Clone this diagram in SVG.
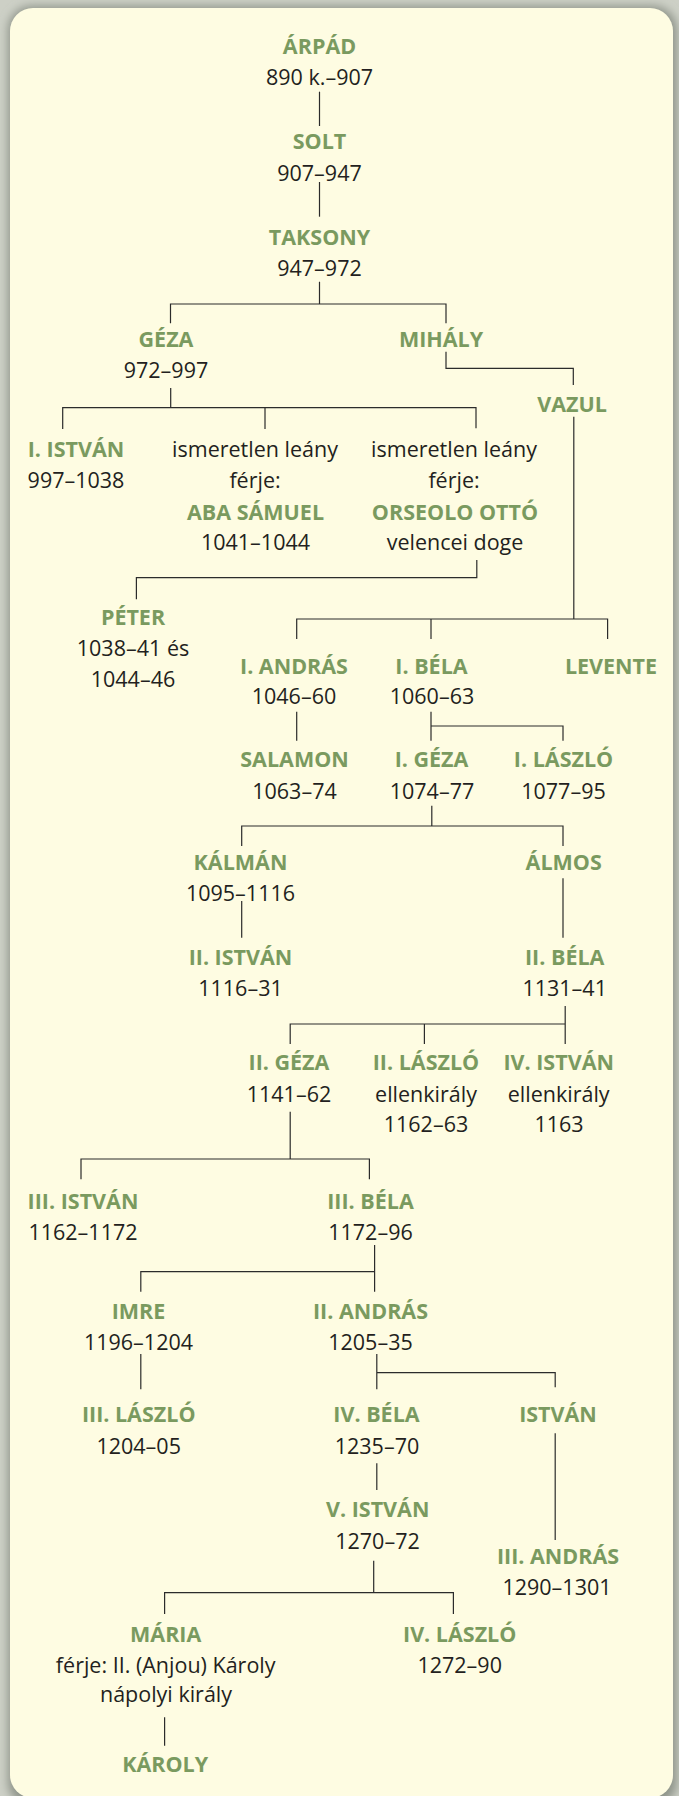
<svg xmlns="http://www.w3.org/2000/svg" width="679" height="1796" viewBox="0 0 679 1796">
<defs>
<filter id="sh" x="-5%" y="-5%" width="110%" height="110%"><feGaussianBlur stdDeviation="5"/></filter>
<style>
.n{font-family:"Open Sans","Liberation Sans",sans-serif;font-size:21.5px;font-weight:700;fill:#7a9a5f;text-anchor:middle}
.t{font-family:"Open Sans","Liberation Sans",sans-serif;font-size:21.5px;font-weight:400;fill:#231f20;text-anchor:middle}
.c{fill:none;stroke:#2b2b2b;stroke-width:1.2}
</style>
</defs>
<rect x="0" y="0" width="679" height="1796" fill="#cdd0c6"/>
<rect x="8" y="6" width="669" height="1800" rx="24" fill="#8f948a" filter="url(#sh)"/>
<rect x="10" y="8" width="663" height="1790" rx="23" fill="#fefce2"/>
<g id="connectors" class="c">
<path d="M319.5 91.7V126"/>
<path d="M319.5 182V216.7"/>
<path d="M319.5 281.7V304M170.5 323.3V304H446V323.3"/>
<path d="M446 351.7V368.3H573.3V385"/>
<path d="M170.7 388V407.7M62.7 429V407.7H476V428.3M265 407.7V429"/>
<path d="M476.8 560V577.7H136.4V599.3"/>
<path d="M573.8 416.7V619M296.7 639V619H607.6V639M431 619V639"/>
<path d="M296.7 711.7V740.7"/>
<path d="M431 711.7V740.7M431 726H563V740.7"/>
<path d="M431.8 805.7V826M241.7 846V826H563V846"/>
<path d="M241.7 901V937.7"/>
<path d="M563 878.3V937.7"/>
<path d="M565.2 1006V1044M290.2 1044V1024H565.2M424.4 1024V1044"/>
<path d="M290.2 1111.7V1159M81 1179.3V1159H369.4V1179.3"/>
<path d="M374.6 1245V1291.7M140.8 1291.7V1271.7H374.6"/>
<path d="M140.8 1354V1389.3"/>
<path d="M376.8 1354V1389.3M376.8 1372.7H555.2V1387.3"/>
<path d="M376.8 1463.3V1490"/>
<path d="M555.2 1433.3V1540"/>
<path d="M373.7 1560.7V1592.7M164.6 1614V1592.7H453.4V1614"/>
<path d="M164.6 1717.3V1745.7"/>
</g>
<g id="arpad"><text class="n" x="319.5" y="54">ÁRPÁD</text><text class="t" x="319.5" y="85">890 k.–907</text></g>
<g id="solt"><text class="n" x="319.5" y="149">SOLT</text><text class="t" x="319.5" y="181">907–947</text></g>
<g id="taksony"><text class="n" x="319.5" y="245">TAKSONY</text><text class="t" x="319.5" y="275.5">947–972</text></g>
<g id="geza"><text class="n" x="166" y="347">GÉZA</text><text class="t" x="166" y="377.5">972–997</text></g>
<g id="mihaly"><text class="n" x="441" y="347">MIHÁLY</text></g>
<g id="vazul"><text class="n" x="572" y="412">VAZUL</text></g>
<g id="istvan1"><text class="n" x="76" y="457">I. ISTVÁN</text><text class="t" x="76" y="487.5">997–1038</text></g>
<g id="leany1"><text class="t" x="255" y="457">ismeretlen leány</text><text class="t" x="255" y="487.5">férje:</text><text class="n" x="255.5" y="519.5">ABA SÁMUEL</text><text class="t" x="255.5" y="550">1041–1044</text></g>
<g id="leany2"><text class="t" x="454" y="457">ismeretlen leány</text><text class="t" x="454" y="487.5">férje:</text><text class="n" x="455" y="519.5">ORSEOLO OTTÓ</text><text class="t" x="455" y="550">velencei doge</text></g>
<g id="peter"><text class="n" x="133" y="625">PÉTER</text><text class="t" x="133" y="656">1038–41 és</text><text class="t" x="133" y="687">1044–46</text></g>
<g id="andras1"><text class="n" x="294" y="673.5">I. ANDRÁS</text><text class="t" x="294" y="704">1046–60</text></g>
<g id="bela1"><text class="n" x="431.5" y="673.5">I. BÉLA</text><text class="t" x="432" y="704">1060–63</text></g>
<g id="levente"><text class="n" x="611" y="673.5">LEVENTE</text></g>
<g id="salamon"><text class="n" x="294.5" y="767">SALAMON</text><text class="t" x="294.5" y="798.5">1063–74</text></g>
<g id="geza1"><text class="n" x="431.5" y="767">I. GÉZA</text><text class="t" x="432" y="798.5">1074–77</text></g>
<g id="laszlo1"><text class="n" x="563.5" y="767">I. LÁSZLÓ</text><text class="t" x="563.5" y="798.5">1077–95</text></g>
<g id="kalman"><text class="n" x="240.5" y="869.5">KÁLMÁN</text><text class="t" x="240.5" y="900.5">1095–1116</text></g>
<g id="almos"><text class="n" x="563.7" y="869.5">ÁLMOS</text></g>
<g id="istvan2"><text class="n" x="240.5" y="965">II. ISTVÁN</text><text class="t" x="240.5" y="996">1116–31</text></g>
<g id="bela2"><text class="n" x="564.7" y="965">II. BÉLA</text><text class="t" x="564.7" y="996">1131–41</text></g>
<g id="geza2"><text class="n" x="289" y="1070">II. GÉZA</text><text class="t" x="289" y="1101.5">1141–62</text></g>
<g id="laszlo2"><text class="n" x="426" y="1070">II. LÁSZLÓ</text><text class="t" x="426" y="1101.5">ellenkirály</text><text class="t" x="426" y="1132">1162–63</text></g>
<g id="istvan4"><text class="n" x="558.7" y="1070">IV. ISTVÁN</text><text class="t" x="558.7" y="1101.5">ellenkirály</text><text class="t" x="559" y="1132">1163</text></g>
<g id="istvan3"><text class="n" x="83" y="1209">III. ISTVÁN</text><text class="t" x="83" y="1240">1162–1172</text></g>
<g id="bela3"><text class="n" x="370.5" y="1209">III. BÉLA</text><text class="t" x="370.5" y="1240">1172–96</text></g>
<g id="imre"><text class="n" x="138.5" y="1318.5">IMRE</text><text class="t" x="138.5" y="1349.5">1196–1204</text></g>
<g id="andras2"><text class="n" x="370.5" y="1318.5">II. ANDRÁS</text><text class="t" x="370.5" y="1349.5">1205–35</text></g>
<g id="laszlo3"><text class="n" x="138.7" y="1422">III. LÁSZLÓ</text><text class="t" x="138.7" y="1453.5">1204–05</text></g>
<g id="bela4"><text class="n" x="376.5" y="1422">IV. BÉLA</text><text class="t" x="377" y="1453.5">1235–70</text></g>
<g id="istvan"><text class="n" x="558" y="1422">ISTVÁN</text></g>
<g id="istvan5"><text class="n" x="377.7" y="1517">V. ISTVÁN</text><text class="t" x="377.5" y="1548.5">1270–72</text></g>
<g id="andras3"><text class="n" x="558" y="1563.5">III. ANDRÁS</text><text class="t" x="557" y="1595">1290–1301</text></g>
<g id="maria"><text class="n" x="165.7" y="1642">MÁRIA</text><text class="t" x="165.7" y="1673">férje: II. (Anjou) Károly</text><text class="t" x="166" y="1702">nápolyi király</text></g>
<g id="laszlo4"><text class="n" x="459.7" y="1642">IV. LÁSZLÓ</text><text class="t" x="459.7" y="1673">1272–90</text></g>
<g id="karoly"><text class="n" x="165.2" y="1772">KÁROLY</text></g>
</svg>
